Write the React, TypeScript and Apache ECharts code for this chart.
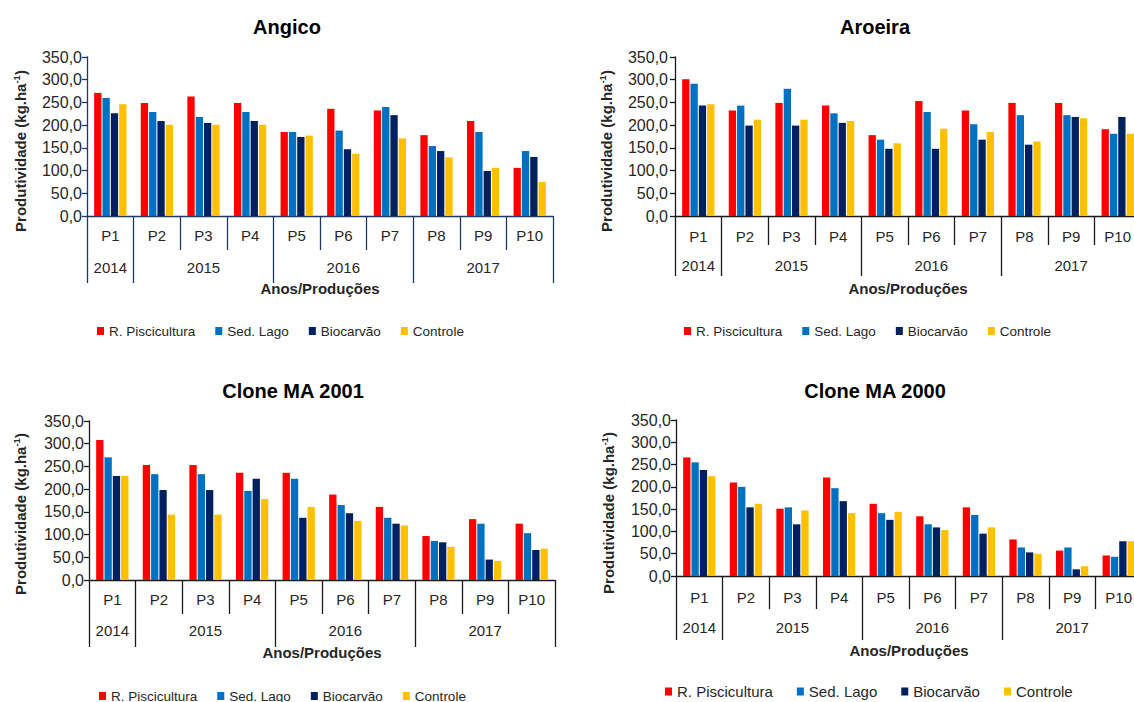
import React, { useEffect, useRef } from 'react';
import * as echarts from 'echarts';

// ---------- DATA ----------
const categories = ['P1', 'P2', 'P3', 'P4', 'P5', 'P6', 'P7', 'P8', 'P9', 'P10'];
const yearLabels = ['2014', '', '2015', '', '', '2016', '', '', '2017', ''];
const yearBoundaries = [0, 1, 4, 7];
const seriesNames = ['R. Piscicultura', 'Sed. Lago', 'Biocarvão', 'Controle'];
const yMax = 350;
const yStep = 50;

const angicoRP = [271, 249, 263, 249, 185, 236, 232, 178, 209, 106];
const angicoSL = [260, 229, 218, 229, 185, 188, 240, 154, 185, 143];
const angicoBC = [226, 209, 205, 209, 174, 147, 222, 143, 99, 130];
const angicoCT = [246, 201, 201, 201, 177, 137, 171, 129, 106, 75];

const aroeiraRP = [301, 232, 249, 243, 178, 253, 232, 249, 249, 191];
const aroeiraSL = [291, 243, 280, 226, 168, 229, 202, 222, 222, 181];
const aroeiraBC = [243, 199, 199, 205, 148, 148, 168, 157, 218, 218];
const aroeiraCT = [246, 212, 212, 209, 160, 192, 185, 164, 215, 181];

const ma2001RP = [308, 253, 253, 236, 236, 188, 161, 97, 134, 124];
const ma2001SL = [270, 233, 233, 196, 223, 165, 137, 86, 124, 103];
const ma2001BC = [229, 198, 198, 223, 137, 147, 124, 83, 45, 66];
const ma2001CT = [229, 144, 144, 178, 161, 130, 120, 73, 42, 69];

const ma2000RP = [266, 210, 151, 221, 162, 134, 154, 82, 57, 46];
const ma2000SL = [255, 200, 154, 197, 141, 116, 137, 64, 64, 43];
const ma2000BC = [238, 154, 116, 168, 126, 109, 95, 53, 15, 78];
const ma2000CT = [224, 162, 147, 141, 144, 103, 109, 50, 22, 78];

const panelTitles = ['Angico', 'Aroeira', 'Clone MA 2001', 'Clone MA 2000'];
const panelData = [
  [angicoRP, angicoSL, angicoBC, angicoCT],
  [aroeiraRP, aroeiraSL, aroeiraBC, aroeiraCT],
  [ma2001RP, ma2001SL, ma2001BC, ma2001CT],
  [ma2000RP, ma2000SL, ma2000BC, ma2000CT],
];
const yTitle = 'Produtividade (kg.ha';
const xTitle = 'Anos/Produções';

// ---------- STYLE / LAYOUT ----------
const colors = ['#FF0000', '#0070C0', '#002060', '#FFC000'];
const FONT = '"Liberation Sans", Arial, sans-serif';
const TXT = '#262626';

const layout = [
  { left: 87, top: 57, height: 159, axisColor: '#1F3864', yMargin: 5, pDiv: 34, yDiv: 33, pMargin: 12, yrMargin: 10,
    title: [282, 12], yT: [20, 151], xT: [320, 288], legend: [97, 324], legendFont: 13.5, legendGap: 20 },
  { left: 675, top: 57, height: 159, axisColor: '#1a1a1a', yMargin: 7, pDiv: 29, yDiv: 31, pMargin: 13, yrMargin: 13,
    title: [870, 12], yT: [606, 151], xT: [908, 288], legend: [684, 324], legendFont: 13.5, legendGap: 20 },
  { left: 89, top: 421, height: 159, axisColor: '#1a1a1a', yMargin: 5, pDiv: 34, yDiv: 33, pMargin: 12, yrMargin: 9,
    title: [288, 376], yT: [20, 514], xT: [322, 652], legend: [99, 689], legendFont: 13.5, legendGap: 20 },
  { left: 676, top: 420, height: 156, axisColor: '#1a1a1a', yMargin: 5, pDiv: 33, yDiv: 31, pMargin: 14, yrMargin: 11,
    title: [870, 376], yT: [608, 513], xT: [909, 650], legend: [665, 684], legendFont: 15, legendGap: 24 },
];
const gridWidth = 466;

export default function App() {
  const ref = useRef<HTMLDivElement>(null);

  useEffect(() => {
    if (!ref.current) return;
    const chart = echarts.init(ref.current, null, { renderer: 'svg' });

    const grids: any[] = [];
    const xAxes: any[] = [];
    const yAxes: any[] = [];
    const series: any[] = [];
    const titles: any[] = [];
    const legends: any[] = [];
    const graphics: any[] = [];

    layout.forEach((L, p) => {
      grids.push({
        left: L.left, top: L.top, width: gridWidth, height: L.height,
        containLabel: false, outerBoundsMode: 'none',
      });
      xAxes.push({
        type: 'category', gridIndex: p, data: categories, position: 'bottom',
        axisLine: { show: true, lineStyle: { color: L.axisColor, width: 1.3 } },
        axisTick: { show: true, interval: 0, length: L.pDiv, lineStyle: { color: L.axisColor, width: 1.3 } },
        axisLabel: { interval: 0, margin: L.pMargin, color: TXT, fontSize: 15, fontFamily: FONT },
        splitLine: { show: false },
      });
      xAxes.push({
        type: 'category', gridIndex: p, data: yearLabels, position: 'bottom', offset: L.pDiv,
        axisLine: { show: false },
        axisTick: {
          show: true, length: L.yDiv, lineStyle: { color: L.axisColor, width: 1.3 },
          interval: (idx: number) => yearBoundaries.includes(idx),
        },
        axisLabel: { interval: 0, margin: L.yrMargin, color: TXT, fontSize: 15, fontFamily: FONT },
        splitLine: { show: false },
      });
      yAxes.push({
        type: 'value', gridIndex: p, min: 0, max: yMax, interval: yStep,
        axisLine: { show: true, lineStyle: { color: L.axisColor, width: 1.3 } },
        axisTick: { show: true, length: 5, lineStyle: { color: L.axisColor, width: 1.3 } },
        axisLabel: {
          margin: L.yMargin, color: TXT, fontSize: 16, fontFamily: FONT,
          formatter: (v: number) => v.toFixed(1).replace('.', ','),
        },
        splitLine: { show: false },
      });
      panelData[p].forEach((vals, k) => {
        series.push({
          type: 'bar', name: seriesNames[k], xAxisIndex: p * 2, yAxisIndex: p,
          data: vals, barWidth: 7.3, barGap: '14%',
          itemStyle: { color: colors[k] },
        });
      });
      titles.push({
        text: panelTitles[p], left: L.title[0], top: L.title[1], textAlign: 'center',
        textStyle: { fontSize: 20, fontWeight: 'bold', color: '#000', fontFamily: FONT },
      });
      legends.push({
        data: seriesNames, left: L.legend[0], top: L.legend[1], orient: 'horizontal',
        padding: 0, itemWidth: 7, itemHeight: 8, itemGap: L.legendGap, icon: 'rect',
        textStyle: { fontSize: L.legendFont, color: TXT, fontFamily: FONT },
      });
      graphics.push({
        type: 'text', x: L.yT[0], y: L.yT[1], rotation: Math.PI / 2,
        style: {
          text: `{a|${yTitle}}{b|-1}{a|)}`,
          textAlign: 'center', textVerticalAlign: 'middle',
          rich: {
            a: { fontSize: 15, fontWeight: 'bold', fontFamily: FONT, fill: TXT, lineHeight: 17 },
            b: { fontSize: 9.5, fontWeight: 'bold', fontFamily: FONT, fill: TXT, verticalAlign: 'top', lineHeight: 17 },
          },
        },
      });
      graphics.push({
        type: 'text', x: L.xT[0], y: L.xT[1],
        style: {
          text: xTitle, textAlign: 'center', textVerticalAlign: 'middle',
          fontSize: 15, fontWeight: 'bold', fontFamily: FONT, fill: TXT,
        },
      });
    });

    chart.setOption({
      animation: false,
      backgroundColor: '#ffffff',
      title: titles,
      legend: legends,
      grid: grids,
      xAxis: xAxes,
      yAxis: yAxes,
      series,
      graphic: graphics,
    });

    return () => chart.dispose();
  }, []);

  return (
    <div
      ref={ref}
      style={{ position: 'fixed', left: 0, top: 0, width: 1134, height: 702, background: '#fff' }}
    />
  );
}
